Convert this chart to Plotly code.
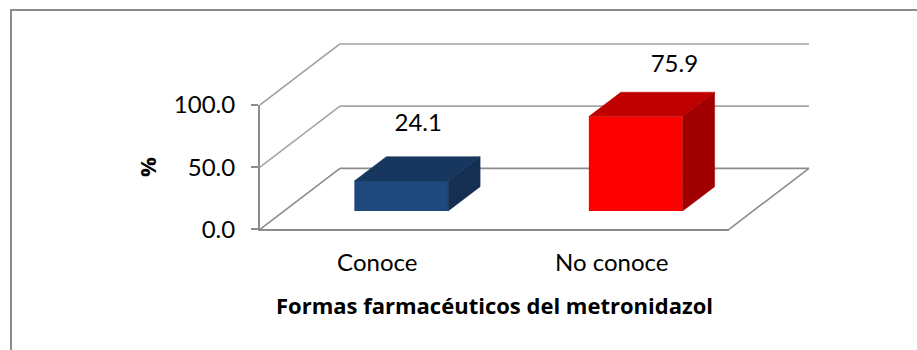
import plotly.graph_objects as go

# Survey result: share of respondents who know the dosage forms of metronidazole
categories = ["Conoce", "No conoce"]
percent = [24.1, 75.9]
value_labels = ["24.1", "75.9"]
y_ticks = [0, 50, 100]
y_tick_labels = ["0.0", "50.0", "100.0"]
x_title = "Formas farmacéuticos del metronidazol"
y_title = "%"

FONT = "Lato, Carlito, Calibri, sans-serif"
TITLE_FONT = "'Open Sans', sans-serif"
WIDTH, HEIGHT = 917, 350
TEXT = "#000000"
AXIS = "#8c8c8c"
grid_colors = {0: "#8c8c8c", 50: "#a6a6a6", 100: "#a0a0a0"}

# Pixel frame of the front face of the chart box
BOX_LEFT, BOX_RIGHT = 260.0, 729.0
BOX_BOTTOM, BOX_TOP = 229.3, 104.9

# Oblique projection: a point at depth d (0 front, 1 back) moves right and up
SHIFT_X = 0.341
SHIFT_Y = 49.0
BAR_WIDTH = 0.40
BAR_FRONT = 0.30
BAR_BACK = 0.70

bar_faces = [
    {"front": "#1f497d", "top": "#17375e", "side": "#152f52"},
    {"front": "#ff0000", "top": "#c00000", "side": "#a00000"},
]
# Placement of each value label relative to the front-top edge of its bar
label_nudge = [(0.0725, 45.2), (0.165, 40.7)]

x_lo, x_hi = -0.5, 1.5
px_per_cat = (BOX_RIGHT - BOX_LEFT) / (x_hi - x_lo)
px_per_unit = (BOX_BOTTOM - BOX_TOP) / 100.0


def project(x, y, depth):
    return x + depth * SHIFT_X, y + depth * SHIFT_Y


def polygon(points, color):
    xs = [p[0] for p in points] + [points[0][0]]
    ys = [p[1] for p in points] + [points[0][1]]
    return go.Scatter(x=xs, y=ys, mode="lines", fill="toself", fillcolor=color,
                      line=dict(color=color, width=0.5), hoverinfo="skip", showlegend=False)


def edge(start, end, color):
    # Sits below the bars so the gridlines pass behind them
    return dict(type="line", xref="x", yref="y", layer="below",
                x0=start[0], y0=start[1], x1=end[0], y1=end[1],
                line=dict(color=color, width=1.6))


fig = go.Figure()

# Back wall gridlines with their diagonals along the side wall, plus the floor's right edge
wall_lines = []
for tick in y_ticks:
    corner = project(x_lo, tick, 1)
    wall_lines.append(edge((x_lo, tick), corner, grid_colors[tick]))
    wall_lines.append(edge(corner, project(x_hi, tick, 1), grid_colors[tick]))
wall_lines.append(edge((x_hi, 0), project(x_hi, 0, 1), AXIS))

# Front faces come from the bar trace, top and side faces from the same values
for i, value in enumerate(percent):
    left = i - BAR_WIDTH / 2
    right = i + BAR_WIDTH / 2
    faces = bar_faces[i]
    fig.add_trace(polygon([project(left, value, BAR_FRONT), project(right, value, BAR_FRONT),
                           project(right, value, BAR_BACK), project(left, value, BAR_BACK)],
                          faces["top"]))
    fig.add_trace(polygon([project(right, 0, BAR_FRONT), project(right, value, BAR_FRONT),
                           project(right, value, BAR_BACK), project(right, 0, BAR_BACK)],
                          faces["side"]))
    front_x, base = project(i, 0, BAR_FRONT)
    fig.add_trace(go.Bar(x=[front_x], y=[value], base=[base], width=[BAR_WIDTH],
                         marker=dict(color=faces["front"], line=dict(width=0)),
                         showlegend=False, hoverinfo="skip"))
    fig.add_trace(go.Scatter(
        x=[front_x + label_nudge[i][0]], y=[base + value + label_nudge[i][1]],
        mode="text", text=[value_labels[i]], textposition="middle center",
        textfont=dict(family=FONT, size=24, color=TEXT),
        showlegend=False, hoverinfo="skip"))

# Transparent trace that brings the visible axes into being
fig.add_trace(go.Scatter(x=[0, 1], y=percent, xaxis="x2", yaxis="y2", mode="markers",
                         marker=dict(opacity=0), showlegend=False, hoverinfo="skip"))

frame_lines = [
    dict(type="line", xref="paper", yref="paper", x0=11 / WIDTH, x1=11 / WIDTH,
         y0=0, y1=1 - 10 / HEIGHT, line=dict(color="#8c8c8c", width=2)),
    dict(type="line", xref="paper", yref="paper", x0=10 / WIDTH, x1=1,
         y0=1 - 10 / HEIGHT, y1=1 - 10 / HEIGHT, line=dict(color="#8c8c8c", width=2)),
]

fig.update_layout(
    width=WIDTH, height=HEIGHT,
    margin=dict(l=0, r=0, t=0, b=0),
    paper_bgcolor="white", plot_bgcolor="rgba(0,0,0,0)",
    barmode="overlay", showlegend=False,
    font=dict(family=FONT, color=TEXT),
    # Drawing axes span the whole page so the oblique faces are never clipped
    xaxis=dict(domain=[0, 1], visible=False,
               range=[x_lo - BOX_LEFT / px_per_cat, x_lo + (WIDTH - BOX_LEFT) / px_per_cat]),
    yaxis=dict(domain=[0, 1], visible=False,
               range=[(BOX_BOTTOM - HEIGHT) / px_per_unit, BOX_BOTTOM / px_per_unit]),
    xaxis2=dict(
        domain=[BOX_LEFT / WIDTH, BOX_RIGHT / WIDTH], range=[x_lo, x_hi], anchor="y2",
        tickmode="array", tickvals=[0, 1], ticktext=categories,
        tickfont=dict(family=FONT, size=24), ticks="", ticklabelstandoff=11,
        showgrid=False, zeroline=False, showline=True, linecolor=AXIS, linewidth=2,
        title=dict(text=f"<b>{x_title}</b>", font=dict(family=TITLE_FONT, size=22), standoff=24),
        automargin=False,
    ),
    yaxis2=dict(
        domain=[1 - BOX_BOTTOM / HEIGHT, 1 - BOX_TOP / HEIGHT], range=[0, 100], anchor="x2",
        tickmode="array", tickvals=y_ticks, ticktext=y_tick_labels,
        tickfont=dict(family=FONT, size=24), ticks="outside", ticklen=7,
        tickcolor=AXIS, tickwidth=1.5, ticklabelstandoff=11,
        showgrid=False, zeroline=False, showline=True, linecolor=AXIS, linewidth=2,
        title=dict(text=f"<b>{y_title}</b>", font=dict(family=TITLE_FONT, size=22), standoff=11),
        automargin=False,
    ),
    shapes=wall_lines + frame_lines,
)

fig.write_html("out.html")
